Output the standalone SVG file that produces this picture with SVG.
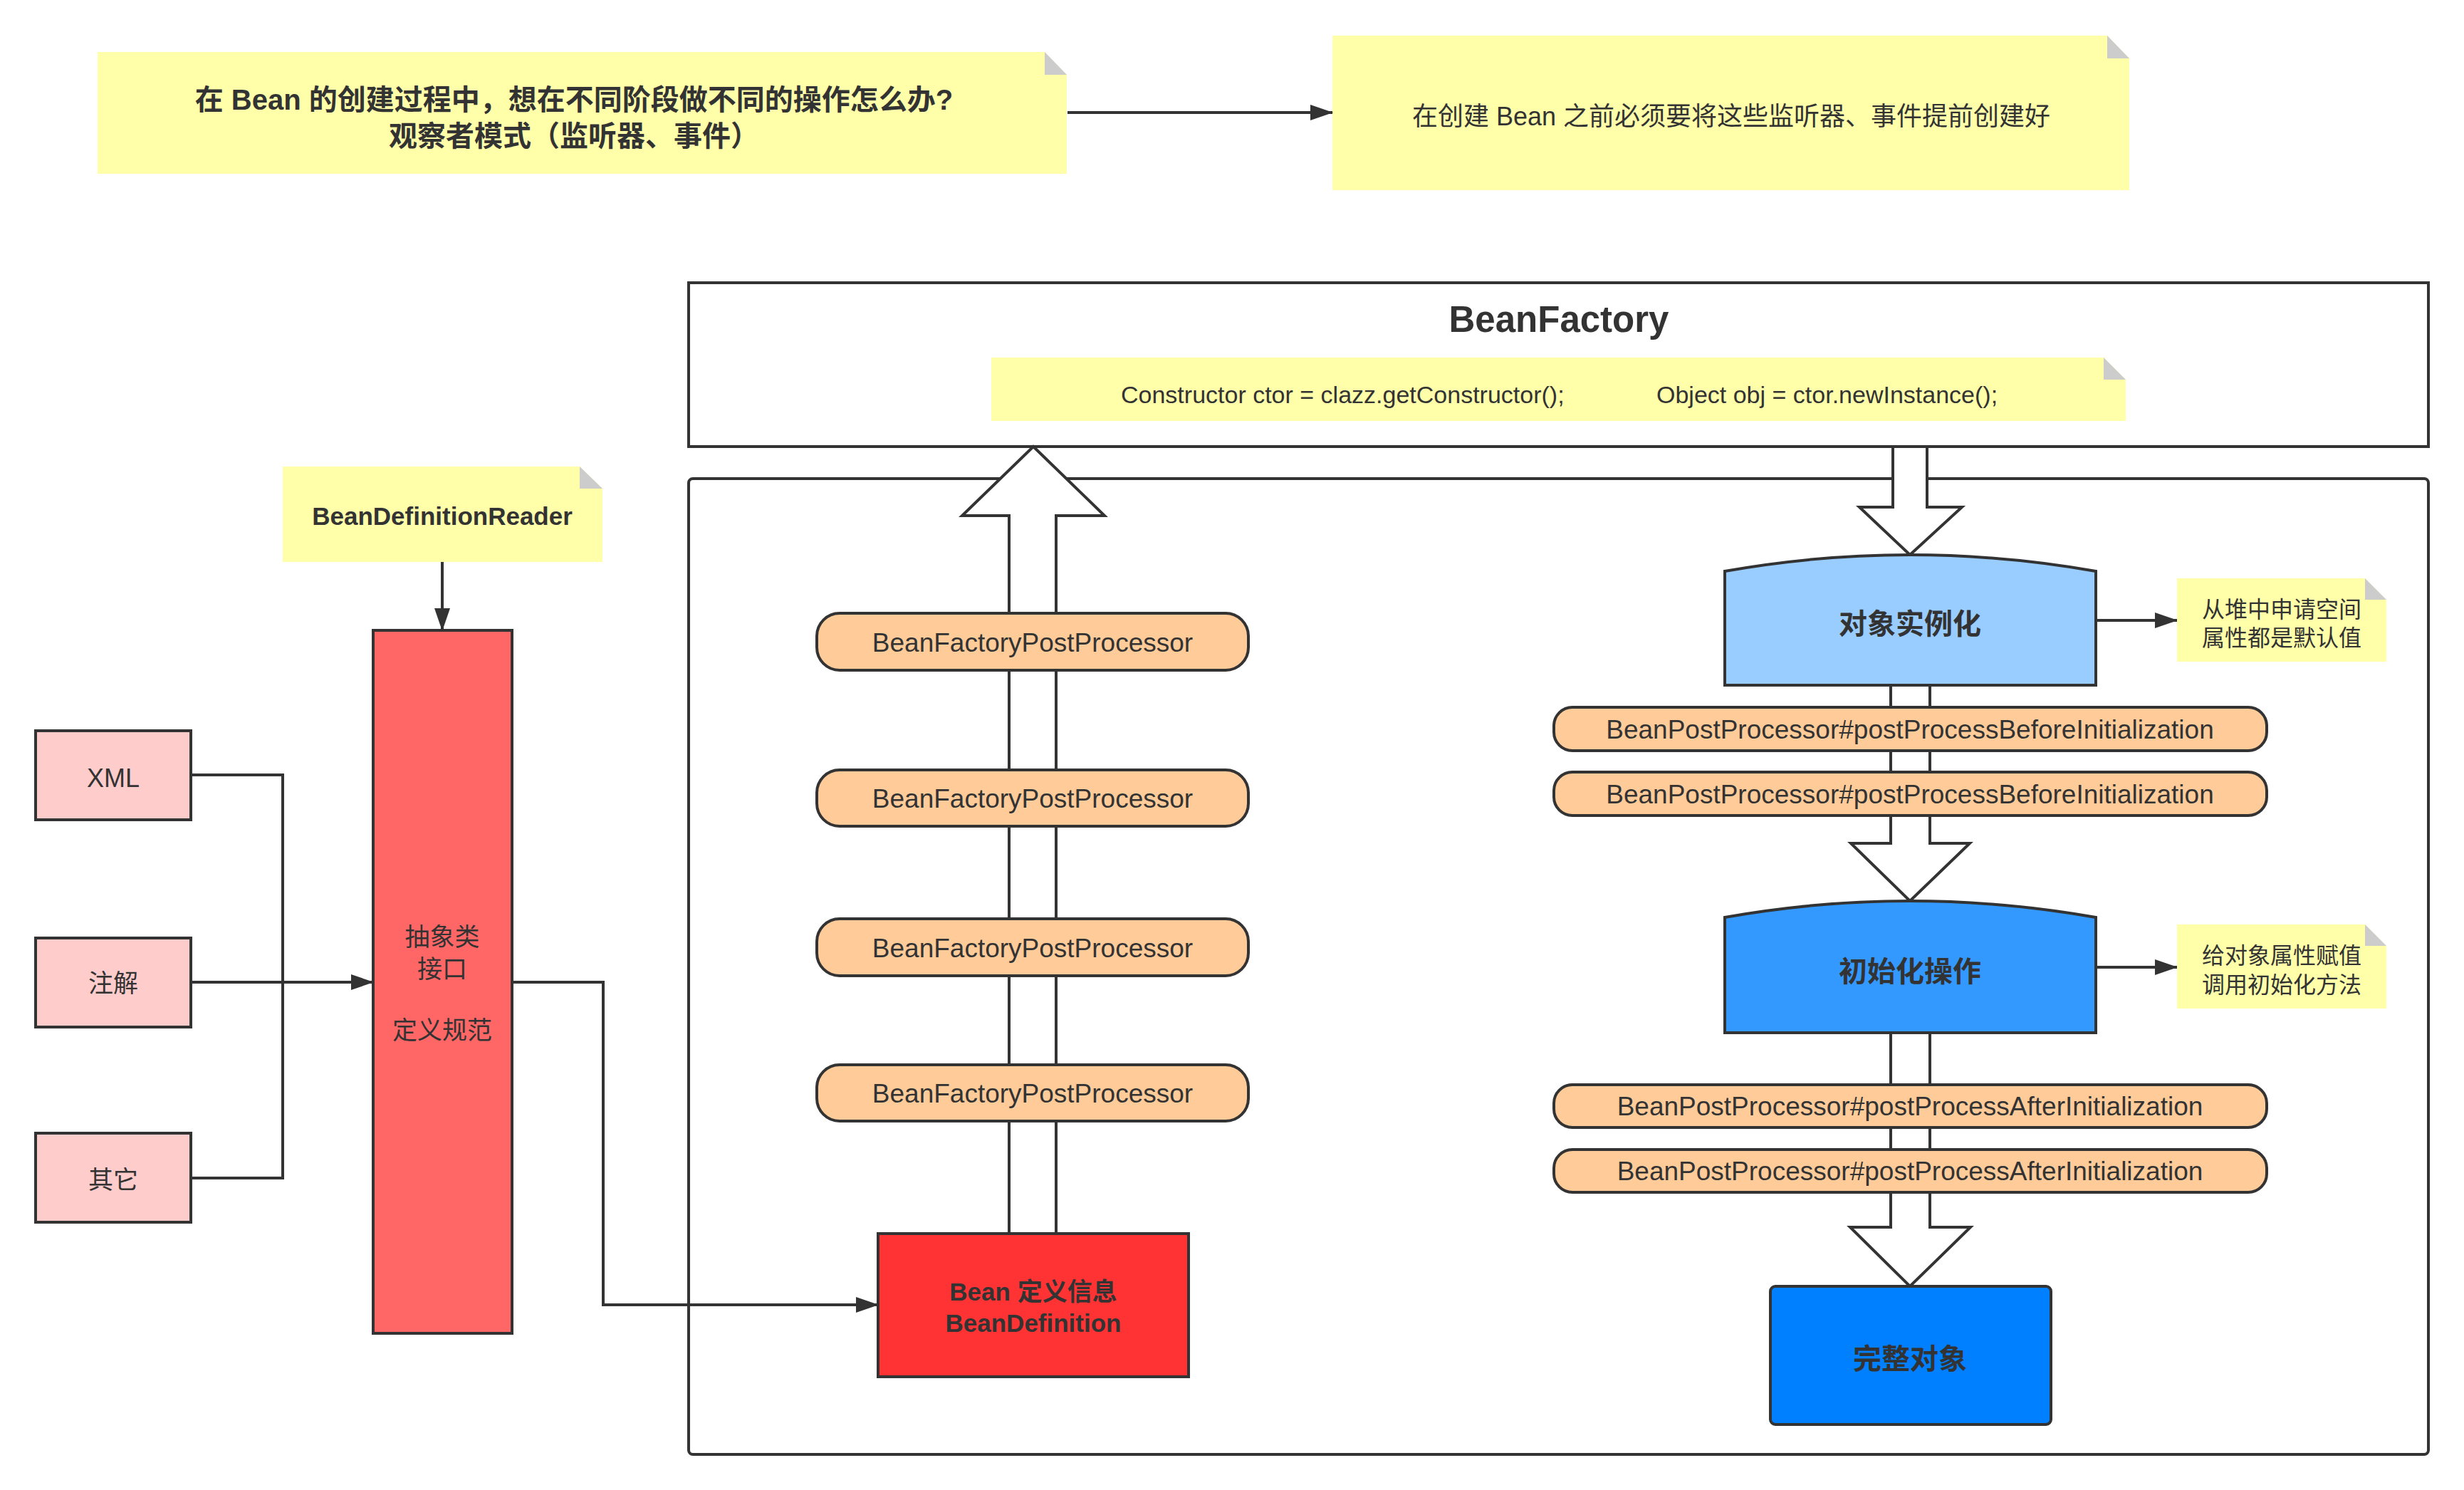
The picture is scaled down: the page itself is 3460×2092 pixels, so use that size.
<svg xmlns="http://www.w3.org/2000/svg" width="3460" height="2092" viewBox="0 0 3460 2092">
<style>
.stk{stroke:#333333;stroke-width:4;stroke-linejoin:miter}
.note{fill:#FFFFAA}
.fold{fill:#CCCCCC}
.pink{fill:#FFCCCC}
.pill{fill:#FFCC99}
.blk{fill:#FFFFFF}
.ln{fill:none;stroke:#333333;stroke-width:4}
text{fill:#333333;font-family:"Liberation Sans","Noto Sans CJK SC",sans-serif}
.c{text-anchor:middle}
.b{font-weight:bold}
</style>
<defs>
<marker id="ah" markerUnits="userSpaceOnUse" markerWidth="32" markerHeight="22" refX="31" refY="11" orient="auto">
<path d="M0,0 L32,11 L0,22 Z" fill="#333333"/>
</marker>
</defs>
<rect width="3460" height="2092" fill="#FFFFFF"/>

<g id="note-title">
<polygon class="note" points="137,73 1467,73 1498,105 1498,244 137,244"/>
<polygon class="fold" points="1467,73 1467,105 1498,105"/>
<text class="c b" font-size="40" x="806" y="154">在 Bean 的创建过程中，想在不同阶段做不同的操作怎么办?</text>
<text class="c b" font-size="40" x="806" y="205">观察者模式（监听器、事件）</text>
</g>

<g id="note-before">
<polygon class="note" points="1871,50 2959,50 2990,82 2990,267 1871,267"/>
<polygon class="fold" points="2959,50 2959,82 2990,82"/>
<text class="c" font-size="36" x="2431" y="176">在创建 Bean 之前必须要将这些监听器、事件提前创建好</text>
</g>

<g id="inner-container">
<rect class="stk" fill="#FFFFFF" x="967" y="672" width="2443" height="1370" rx="6"/>
</g>

<g id="bean-factory">
<rect class="stk" fill="#FFFFFF" x="967" y="397" width="2443" height="230"/>
<text class="c b" font-size="51" x="2189" y="466">BeanFactory</text>
</g>

<g id="note-code">
<polygon class="note" points="1392,502 2954,502 2985,533 2985,591 1392,591"/>
<polygon class="fold" points="2954,502 2954,533 2985,533"/>
<text font-size="34" y="566"><tspan x="1574">Constructor ctor = clazz.getConstructor();</tspan><tspan x="2326">Object obj = ctor.newInstance();</tspan></text>
</g>

<g id="connectors">
<polyline class="ln" points="1499,158 1871,158" marker-end="url(#ah)"/>
<polyline class="ln" points="621,789 621,885" marker-end="url(#ah)"/>
<polyline class="ln" points="268,1088 397,1088 397,1654 268,1654"/>
<polyline class="ln" points="268,1379 524,1379" marker-end="url(#ah)"/>
<polyline class="ln" points="719,1379 847,1379 847,1832 1233,1832" marker-end="url(#ah)"/>
<polyline class="ln" points="2943,871 3057,871" marker-end="url(#ah)"/>
<polyline class="ln" points="2943,1358 3057,1358" marker-end="url(#ah)"/>
<polygon class="blk stk" points="1451,627 1551,724 1483,724 1483,1732 1417,1732 1417,724 1351,724"/>
<polygon class="blk stk" points="2658,627 2706,627 2706,712 2755,712 2682,779 2611,712 2658,712"/>
<polygon class="blk stk" points="2655,962 2710,962 2710,1184 2766,1184 2682,1265 2599,1184 2655,1184"/>
<polygon class="blk stk" points="2655,1450 2710,1450 2710,1723 2767,1723 2682,1806 2598,1723 2655,1723"/>
</g>

<g id="note-reader">
<polygon class="note" points="397,655 814,655 846,686 846,789 397,789"/>
<polygon class="fold" points="814,655 814,686 846,686"/>
<text class="c b" font-size="35" x="621" y="737">BeanDefinitionReader</text>
</g>

<g id="node-xml">
<rect class="pink stk" x="50" y="1026" width="218" height="125"/>
<text class="c" font-size="36" x="159" y="1105">XML</text>
</g>
<g id="node-annotation">
<rect class="pink stk" x="50" y="1317" width="218" height="125"/>
<text class="c" font-size="35" x="159" y="1393">注解</text>
</g>
<g id="node-other">
<rect class="pink stk" x="50" y="1591" width="218" height="125"/>
<text class="c" font-size="35" x="159" y="1669">其它</text>
</g>

<g id="node-abstract">
<rect class="stk" fill="#FF6666" x="524" y="885" width="195" height="987"/>
<text class="c" font-size="35" x="621" y="1328">抽象类</text>
<text class="c" font-size="35" x="621" y="1373">接口</text>
<text class="c" font-size="35" x="621" y="1459">定义规范</text>
</g>

<g id="bfpp-1">
<rect class="pill stk" x="1147" y="861" width="606" height="80" rx="32"/>
<text class="c" font-size="37" x="1450" y="915">BeanFactoryPostProcessor</text>
</g>
<g id="bfpp-2">
<rect class="pill stk" x="1147" y="1081" width="606" height="79" rx="32"/>
<text class="c" font-size="37" x="1450" y="1134">BeanFactoryPostProcessor</text>
</g>
<g id="bfpp-3">
<rect class="pill stk" x="1147" y="1290" width="606" height="80" rx="32"/>
<text class="c" font-size="37" x="1450" y="1344">BeanFactoryPostProcessor</text>
</g>
<g id="bfpp-4">
<rect class="pill stk" x="1147" y="1495" width="606" height="79" rx="32"/>
<text class="c" font-size="37" x="1450" y="1548">BeanFactoryPostProcessor</text>
</g>

<g id="bean-definition">
<rect class="stk" fill="#FF3333" x="1233" y="1732" width="436" height="201"/>
<text class="c b" font-size="35" x="1451" y="1826">Bean 定义信息</text>
<text class="c b" font-size="35" x="1451" y="1870">BeanDefinition</text>
</g>

<g id="instantiate">
<path class="stk" fill="#99CCFF" d="M2422,962 L2422,802 Q2682,756 2943,802 L2943,962 Z"/>
<text class="c b" font-size="40" x="2682" y="890">对象实例化</text>
</g>

<g id="note-instantiate">
<polygon class="note" points="3057,812 3321,812 3351,842 3351,929 3057,929"/>
<polygon class="fold" points="3321,812 3321,842 3351,842"/>
<text class="c" font-size="32" x="3204" y="867">从堆中申请空间</text>
<text class="c" font-size="32" x="3204" y="907">属性都是默认值</text>
</g>

<g id="bpp-before-1">
<rect class="pill stk" x="2182" y="993" width="1001" height="61" rx="26"/>
<text class="c" font-size="37" x="2682" y="1037">BeanPostProcessor#postProcessBeforeInitialization</text>
</g>
<g id="bpp-before-2">
<rect class="pill stk" x="2182" y="1084" width="1001" height="61" rx="26"/>
<text class="c" font-size="37" x="2682" y="1128">BeanPostProcessor#postProcessBeforeInitialization</text>
</g>

<g id="initialize">
<path class="stk" fill="#3399FF" d="M2422,1450 L2422,1288 Q2682,1242 2943,1288 L2943,1450 Z"/>
<text class="c b" font-size="40" x="2682" y="1378">初始化操作</text>
</g>

<g id="note-initialize">
<polygon class="note" points="3057,1298 3321,1298 3351,1328 3351,1416 3057,1416"/>
<polygon class="fold" points="3321,1298 3321,1328 3351,1328"/>
<text class="c" font-size="32" x="3204" y="1353">给对象属性赋值</text>
<text class="c" font-size="32" x="3204" y="1394">调用初始化方法</text>
</g>

<g id="bpp-after-1">
<rect class="pill stk" x="2182" y="1523" width="1001" height="60" rx="26"/>
<text class="c" font-size="37" x="2682" y="1566">BeanPostProcessor#postProcessAfterInitialization</text>
</g>
<g id="bpp-after-2">
<rect class="pill stk" x="2182" y="1614" width="1001" height="60" rx="26"/>
<text class="c" font-size="37" x="2682" y="1657">BeanPostProcessor#postProcessAfterInitialization</text>
</g>

<g id="complete-object">
<rect class="stk" fill="#007FFF" x="2486" y="1806" width="394" height="194" rx="7"/>
<text class="c b" font-size="40" x="2682" y="1922">完整对象</text>
</g>
</svg>
